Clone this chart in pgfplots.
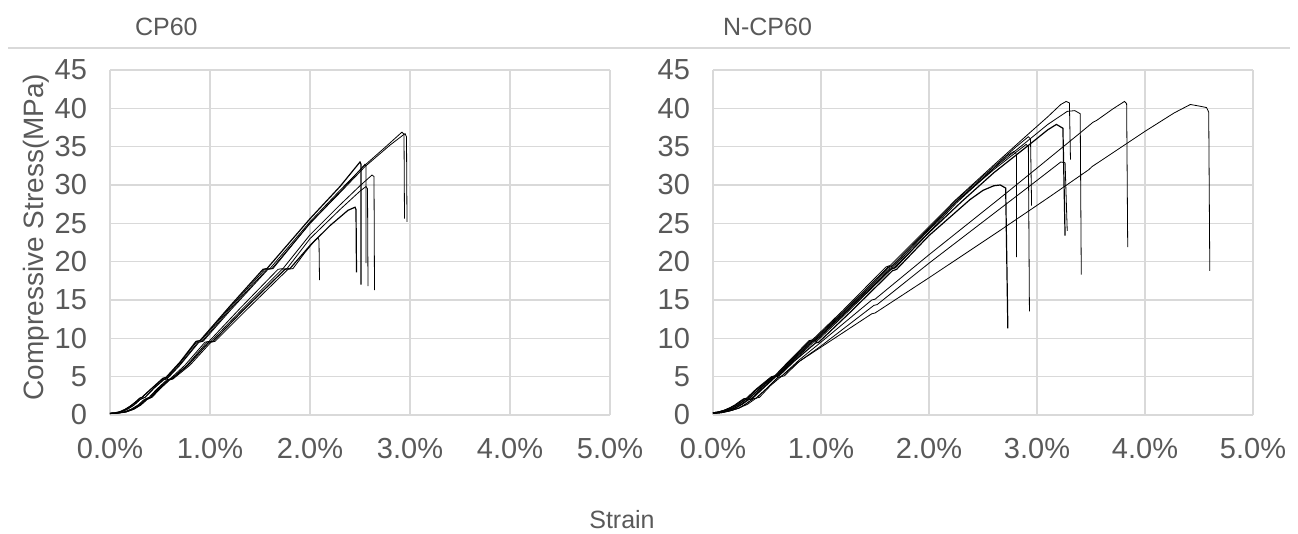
\documentclass[border=0pt]{standalone}
\usepackage{pgfplots}
\pgfplotsset{compat=1.18}
\usepackage{fontspec}
\setmainfont{Liberation Sans}
\definecolor{txtgray}{HTML}{595959}
\definecolor{gridgray}{HTML}{D9D9D9}

\pgfplotsset{
  ssplot/.style={
    scale only axis,
    anchor=south west,
    xmin=0, xmax=5, ymin=0, ymax=45,
    xtick={0,1,2,3,4,5},
    ytick={0,5,...,45},
    grid=major,
    major grid style={gridgray, line width=0.6pt},
    axis line style={draw=none},
    tick style={draw=none},
    /pgf/number format/assume math mode=true,
    xticklabel={\pgfmathprintnumber[fixed,fixed zerofill,precision=1]{\tick}\%},
    yticklabel={\pgfmathprintnumber{\tick}},
    tick label style={font=\fontsize{14.5}{14.5}\selectfont, text=txtgray},
    xticklabel style={yshift=-8pt},
    yticklabel style={xshift=-8pt},
    clip=false,
    cycle list={{black, solid, line width=0.6pt, mark=none}},
  }
}

\begin{document}
\begin{tikzpicture}
\path[use as bounding box] (0,0) rectangle (649pt,267pt);

\draw[gridgray, line width=0.6pt] (4pt,243pt) -- (645pt,243pt);
\node[anchor=west, text=txtgray, font=\fontsize{12.5}{12.5}\selectfont] at (64pt,253.5pt) {CP60};
\node[anchor=west, text=txtgray, font=\fontsize{12.5}{12.5}\selectfont] at (358pt,253.5pt) {N-CP60};
\node[text=txtgray, font=\fontsize{12.5}{12.5}\selectfont] at (311pt,7pt) {Strain};
\node[rotate=90, text=txtgray, font=\fontsize{14}{14}\selectfont] at (18pt,148.5pt) {Compressive Stress(MPa)};

% CP60
\begin{axis}[ssplot, at={(55pt,59.5pt)}, width=250pt, height=172.5pt]
\addplot coordinates {(0,0.25)(0.05,0.3)(0.1,0.45)(0.15,0.75)(0.2,1.15)(0.25,1.65)(0.3,2.2)(0.32,2.3)(0.42,3.5)(0.54,4.8)(0.57,4.9)(0.7,6.8)(0.87,9.6)(0.91,9.7)(1.2,14.0)(1.55,19.0)(1.6,19.1)(2.0,25.2)(2.3,29.3)(2.55,32.6)(2.75,34.9)(2.92,36.9)(2.94,36.6)(2.945,25.6)};
\addplot coordinates {(0,0.2)(0.06,0.25)(0.12,0.45)(0.18,0.8)(0.24,1.3)(0.3,2.0)(0.33,2.2)(0.35,2.3)(0.44,3.5)(0.54,4.7)(0.57,4.8)(0.7,6.6)(0.88,9.5)(0.92,9.6)(1.2,13.8)(1.57,19.0)(1.62,19.1)(2.0,25.0)(2.3,29.0)(2.55,32.4)(2.8,35.2)(2.95,36.7)(2.965,36.3)(2.97,25.2)};
\addplot coordinates {(0,0.2)(0.05,0.25)(0.1,0.4)(0.15,0.7)(0.2,1.1)(0.25,1.6)(0.3,2.2)(0.32,2.3)(0.42,3.5)(0.53,4.8)(0.56,4.9)(0.7,6.9)(0.86,9.6)(0.9,9.7)(1.2,14.2)(1.53,19.0)(1.57,19.1)(2.0,25.6)(2.3,29.8)(2.50,33.0)(2.51,32.7)(2.51,17.0)};
\addplot coordinates {(0,0.2)(0.06,0.25)(0.12,0.45)(0.18,0.8)(0.24,1.3)(0.3,2.0)(0.33,2.2)(0.35,2.3)(0.44,3.5)(0.54,4.6)(0.57,4.7)(0.7,6.5)(0.89,9.5)(0.93,9.6)(1.2,13.6)(1.58,19.0)(1.63,19.1)(2.0,25.0)(2.3,29.1)(2.55,32.7)(2.56,32.5)(2.56,19.8)};
\addplot coordinates {(0,0.2)(0.07,0.25)(0.14,0.4)(0.21,0.75)(0.28,1.3)(0.34,2.0)(0.37,2.2)(0.39,2.3)(0.47,3.4)(0.57,4.6)(0.6,4.7)(0.75,6.5)(0.95,9.5)(0.99,9.6)(1.3,13.9)(1.68,19.0)(1.73,19.1)(2.0,23.5)(2.3,27.4)(2.5,29.9)(2.62,31.3)(2.64,31.1)(2.645,16.3)};
\addplot coordinates {(0,0.2)(0.08,0.25)(0.15,0.4)(0.22,0.75)(0.29,1.3)(0.35,2.0)(0.38,2.2)(0.40,2.3)(0.48,3.4)(0.58,4.6)(0.61,4.7)(0.77,6.5)(0.97,9.5)(1.01,9.6)(1.33,13.9)(1.72,19.0)(1.77,19.1)(2.0,23.0)(2.3,26.8)(2.5,29.2)(2.56,29.8)(2.575,29.5)(2.58,16.8)};
\addplot coordinates {(0,0.2)(0.08,0.25)(0.16,0.4)(0.23,0.75)(0.3,1.3)(0.36,2.0)(0.39,2.2)(0.41,2.3)(0.49,3.4)(0.59,4.6)(0.62,4.7)(0.78,6.5)(0.99,9.5)(1.03,9.6)(1.35,13.9)(1.75,19.0)(1.80,19.1)(2.0,22.1)(2.2,24.7)(2.38,26.7)(2.45,27.1)(2.46,26.8)(2.465,18.6)};
\addplot coordinates {(0,0.2)(0.08,0.25)(0.16,0.4)(0.24,0.75)(0.31,1.3)(0.37,2.0)(0.40,2.2)(0.42,2.3)(0.5,3.4)(0.6,4.6)(0.63,4.7)(0.8,6.5)(1.01,9.5)(1.05,9.6)(1.38,13.9)(1.78,19.0)(1.83,19.1)(1.95,21.2)(2.05,22.8)(2.08,23.1)(2.09,22.8)(2.095,17.6)};
\end{axis}

% N-CP60
\begin{axis}[ssplot, at={(356.5pt,59.5pt)}, width=270pt, height=172.5pt]
\addplot coordinates {(0,0.3)(0.05,0.4)(0.1,0.6)(0.15,0.9)(0.2,1.3)(0.28,2.1)(0.31,2.2)(0.4,3.4)(0.54,5.0)(0.57,5.1)(0.7,7.0)(0.89,9.7)(0.92,9.8)(1.2,13.6)(1.6,19.3)(1.64,19.5)(2.25,28.1)(2.6,32.6)(2.9,36.4)(3.1,38.9)(3.22,40.5)(3.27,40.9)(3.30,40.7)(3.31,33.3)};
\addplot coordinates {(0,0.3)(0.05,0.4)(0.1,0.6)(0.15,0.9)(0.21,1.3)(0.29,2.1)(0.32,2.2)(0.41,3.4)(0.55,5.0)(0.58,5.1)(0.71,7.0)(0.9,9.6)(0.93,9.7)(1.22,13.6)(1.62,19.2)(1.66,19.4)(2.25,27.8)(2.6,32.2)(2.9,35.6)(3.1,37.9)(3.28,39.6)(3.35,39.7)(3.40,39.3)(3.41,18.3)};
\addplot coordinates {(0,0.25)(0.06,0.35)(0.12,0.6)(0.18,0.9)(0.24,1.4)(0.3,2.0)(0.33,2.1)(0.43,3.4)(0.56,5.0)(0.59,5.1)(0.73,7.0)(0.92,9.6)(0.95,9.7)(1.25,13.7)(1.64,19.0)(1.68,19.2)(2.0,23.8)(2.3,27.8)(2.6,31.6)(2.95,35.5)(3.1,37.2)(3.18,37.9)(3.24,37.4)(3.26,23.4)};
\addplot coordinates {(0,0.3)(0.05,0.4)(0.1,0.6)(0.16,0.9)(0.22,1.4)(0.29,2.1)(0.32,2.2)(0.41,3.4)(0.55,5.0)(0.58,5.1)(0.71,7.0)(0.9,9.7)(0.93,9.8)(1.22,13.7)(1.62,19.3)(1.66,19.5)(2.25,28.0)(2.6,32.4)(2.8,34.9)(2.92,36.3)(2.94,36.0)(2.95,27.3)};
\addplot coordinates {(0,0.25)(0.06,0.35)(0.12,0.6)(0.18,0.9)(0.24,1.4)(0.3,2.0)(0.33,2.1)(0.43,3.4)(0.56,5.0)(0.59,5.1)(0.72,7.0)(0.91,9.6)(0.94,9.7)(1.23,13.6)(1.63,19.1)(1.67,19.3)(2.25,27.8)(2.6,32.0)(2.8,34.2)(2.9,35.3)(2.92,35.0)(2.93,13.5)};
\addplot coordinates {(0,0.25)(0.07,0.35)(0.14,0.6)(0.2,0.9)(0.26,1.4)(0.32,2.0)(0.35,2.1)(0.44,3.3)(0.57,5.0)(0.6,5.1)(0.74,7.0)(0.93,9.5)(0.96,9.6)(1.25,13.5)(1.65,19.0)(1.69,19.2)(2.25,27.6)(2.55,31.5)(2.72,33.8)(2.79,34.4)(2.81,34.0)(2.81,20.6)};
\addplot coordinates {(0,0.25)(0.07,0.35)(0.14,0.6)(0.21,0.9)(0.27,1.4)(0.33,2.0)(0.36,2.1)(0.45,3.3)(0.58,5.0)(0.61,5.1)(0.75,7.0)(0.95,9.4)(0.98,9.5)(1.27,13.4)(1.66,18.8)(1.7,19.0)(2.0,23.4)(2.38,28.1)(2.5,29.3)(2.6,29.9)(2.66,30.0)(2.71,29.6)(2.73,11.3)};
\addplot coordinates {(0,0.2)(0.08,0.3)(0.16,0.55)(0.24,0.9)(0.3,1.4)(0.37,2.1)(0.4,2.2)(0.5,3.5)(0.6,4.9)(0.63,5.0)(0.8,7.0)(1.0,9.0)(1.49,14.3)(1.52,14.4)(2.0,19.8)(2.5,25.2)(3.0,30.6)(3.22,33.0)(3.26,32.9)(3.28,24.0)};
\addplot coordinates {(0,0.2)(0.08,0.3)(0.16,0.55)(0.24,0.9)(0.3,1.4)(0.37,2.1)(0.4,2.2)(0.5,3.5)(0.6,4.9)(0.63,5.0)(0.8,7.2)(1.0,9.5)(1.47,15.0)(1.50,15.1)(2.0,20.9)(2.65,28.2)(3.0,32.2)(3.40,36.8)(3.52,38.2)(3.55,38.4)(3.7,39.9)(3.81,40.9)(3.83,40.6)(3.84,21.9)};
\addplot coordinates {(0,0.2)(0.08,0.3)(0.16,0.55)(0.24,0.9)(0.32,1.4)(0.4,2.2)(0.43,2.3)(0.53,3.8)(0.63,5.0)(0.66,5.1)(0.8,7.0)(1.2,10.7)(1.47,13.2)(1.50,13.3)(2.0,17.9)(2.65,24.0)(3.1,28.3)(3.48,32.0)(3.51,32.4)(4.0,37.0)(4.27,39.4)(4.42,40.5)(4.5,40.3)(4.57,40.1)(4.59,39.5)(4.60,18.8)};
\end{axis}
\end{tikzpicture}
\end{document}
